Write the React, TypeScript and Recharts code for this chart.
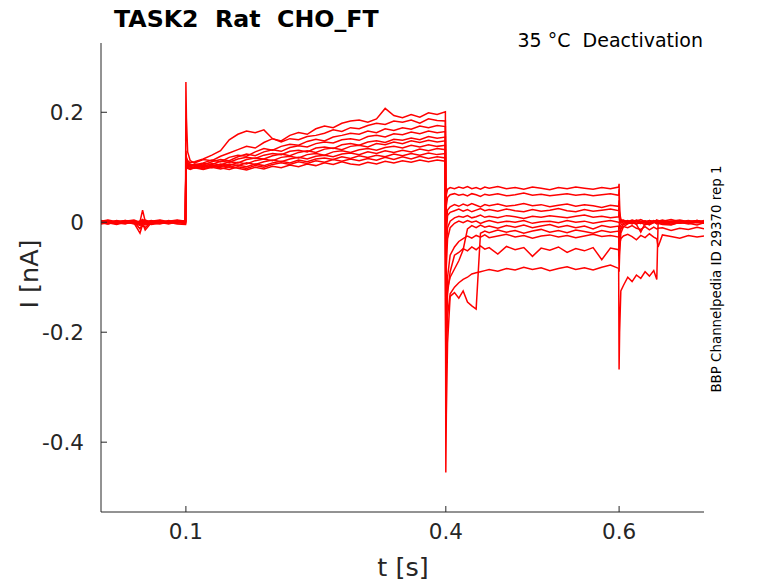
import { LineChart, Line, XAxis, YAxis } from "recharts";

// Current traces of a deactivation protocol: holding, prepulse (0.1–0.4 s),
// test steps (0.4–0.6 s), back to holding. nA.

const PRE_T = [0.002, 0.01, 0.02, 0.03, 0.04, 0.047, 0.05, 0.053, 0.06, 0.07, 0.08, 0.09, 0.0995];
const STEP_T = [
  0.1, 0.1006, 0.102, 0.105,
  0.11, 0.12, 0.13, 0.14, 0.15, 0.16, 0.17, 0.18, 0.19, 0.2,
  0.21, 0.22, 0.23, 0.24, 0.25, 0.26, 0.27, 0.28, 0.29, 0.3,
  0.31, 0.32, 0.33, 0.34, 0.35, 0.36, 0.37, 0.38, 0.39, 0.3995,
];
const HOLD_T = [
  0.4, 0.4006, 0.402, 0.405, 0.41, 0.415, 0.42, 0.425, 0.43, 0.435, 0.44, 0.445,
  0.45, 0.46, 0.47, 0.48, 0.49, 0.5, 0.51, 0.52, 0.53, 0.54, 0.55, 0.56, 0.57, 0.58, 0.59, 0.5995,
];
const POST_T = [
  0.6, 0.6006, 0.602, 0.605, 0.61, 0.615, 0.62, 0.625, 0.63, 0.635, 0.64, 0.6435, 0.645,
  0.65, 0.66, 0.67, 0.68, 0.69, 0.698,
];

const PRE_I = [
  [0.002, -0.001, 0.003, 0.0, -0.002, 0.001, 0.022, 0.002, -0.001, 0.003, 0.0, 0.002, -0.001],
  [-0.002, 0.001, -0.003, 0.002, -0.001, -0.02, -0.004, -0.01, 0.001, -0.002, 0.002, -0.001, 0.001],
  [0.001, 0.003, -0.001, 0.002, 0.004, 0.0, 0.003, -0.002, 0.002, 0.004, 0.001, 0.003, 0.0],
  [-0.001, -0.003, 0.001, -0.002, 0.0, -0.004, -0.001, -0.005, -0.002, 0.0, -0.003, 0.001, -0.002],
  [0.0, 0.002, -0.002, 0.001, -0.003, 0.002, 0.0, 0.001, -0.003, 0.001, -0.001, 0.002, 0.001],
  [0.003, 0.0, 0.002, -0.001, 0.001, -0.002, 0.004, 0.0, 0.002, -0.001, 0.003, 0.0, 0.002],
  [-0.003, -0.001, -0.004, 0.0, -0.002, -0.006, -0.003, -0.001, -0.004, -0.002, 0.0, -0.003, -0.004],
  [0.001, -0.002, 0.0, 0.003, 0.001, -0.001, 0.002, 0.004, 0.0, 0.002, -0.002, 0.001, 0.003],
  [-0.002, 0.0, -0.001, -0.003, 0.002, -0.003, -0.002, 0.0, -0.001, -0.003, 0.001, -0.002, 0.0],
  [0.002, 0.004, 0.001, 0.003, -0.001, 0.002, 0.005, 0.001, 0.003, 0.0, 0.002, 0.004, 0.002],
  [0.0, -0.003, 0.002, -0.001, 0.001, -0.012, -0.002, -0.014, -0.001, 0.001, -0.002, 0.0, -0.003],
];

const STEP_I = [
  [0.255, 0.19, 0.128, 0.112, 0.108, 0.114, 0.112, 0.12, 0.126, 0.132, 0.138, 0.135, 0.145, 0.152,
    0.148, 0.158, 0.163, 0.16, 0.17, 0.175, 0.172, 0.18, 0.184, 0.186, 0.182, 0.188, 0.207, 0.194,
    0.19, 0.196, 0.191, 0.199, 0.196, 0.201],
  [0.13, 0.118, 0.112, 0.108, 0.11, 0.115, 0.122, 0.13, 0.15, 0.16, 0.166, 0.163, 0.168, 0.152,
    0.146, 0.152, 0.15, 0.156, 0.158, 0.162, 0.168, 0.165, 0.172, 0.17, 0.176, 0.18, 0.178, 0.184,
    0.182, 0.186, 0.18, 0.188, 0.185, 0.184],
  [0.12, 0.112, 0.108, 0.104, 0.104, 0.108, 0.113, 0.11, 0.118, 0.122, 0.12, 0.128, 0.134, 0.131,
    0.138, 0.142, 0.14, 0.147, 0.151, 0.148, 0.155, 0.158, 0.162, 0.16, 0.166, 0.163, 0.17, 0.167,
    0.172, 0.169, 0.175, 0.172, 0.176, 0.174],
  [0.118, 0.11, 0.106, 0.103, 0.106, 0.104, 0.11, 0.114, 0.112, 0.119, 0.124, 0.121, 0.128, 0.132,
    0.129, 0.136, 0.139, 0.137, 0.143, 0.146, 0.144, 0.15, 0.152, 0.149, 0.156, 0.158, 0.155, 0.161,
    0.159, 0.164, 0.161, 0.166, 0.163, 0.165],
  [0.125, 0.115, 0.109, 0.105, 0.102, 0.107, 0.105, 0.111, 0.109, 0.115, 0.118, 0.116, 0.122, 0.125,
    0.123, 0.129, 0.131, 0.128, 0.135, 0.137, 0.134, 0.141, 0.143, 0.14, 0.146, 0.148, 0.145, 0.151,
    0.149, 0.153, 0.15, 0.156, 0.153, 0.155],
  [0.115, 0.108, 0.104, 0.102, 0.105, 0.101, 0.107, 0.104, 0.11, 0.108, 0.114, 0.117, 0.115, 0.121,
    0.124, 0.121, 0.127, 0.13, 0.127, 0.133, 0.135, 0.132, 0.138, 0.14, 0.137, 0.143, 0.141, 0.146,
    0.143, 0.148, 0.145, 0.149, 0.146, 0.148],
  [0.112, 0.106, 0.103, 0.1, 0.1, 0.104, 0.101, 0.106, 0.103, 0.109, 0.106, 0.112, 0.115, 0.112,
    0.118, 0.12, 0.117, 0.123, 0.125, 0.122, 0.128, 0.13, 0.127, 0.132, 0.134, 0.131, 0.136, 0.138,
    0.135, 0.14, 0.137, 0.141, 0.138, 0.14],
  [0.12, 0.11, 0.105, 0.101, 0.103, 0.099, 0.104, 0.101, 0.106, 0.103, 0.108, 0.105, 0.11, 0.113,
    0.11, 0.115, 0.118, 0.115, 0.12, 0.122, 0.119, 0.124, 0.126, 0.123, 0.128, 0.125, 0.13, 0.127,
    0.131, 0.128, 0.133, 0.13, 0.134, 0.132],
  [0.11, 0.104, 0.1, 0.098, 0.098, 0.102, 0.099, 0.103, 0.1, 0.104, 0.101, 0.106, 0.103, 0.108,
    0.111, 0.108, 0.113, 0.11, 0.115, 0.117, 0.114, 0.119, 0.116, 0.121, 0.118, 0.122, 0.119, 0.124,
    0.121, 0.125, 0.122, 0.126, 0.123, 0.125],
  [0.116, 0.106, 0.1, 0.097, 0.101, 0.097, 0.102, 0.099, 0.096, 0.101, 0.098, 0.103, 0.1, 0.105,
    0.108, 0.105, 0.11, 0.107, 0.112, 0.109, 0.114, 0.111, 0.115, 0.112, 0.116, 0.113, 0.118, 0.114,
    0.119, 0.115, 0.12, 0.116, 0.119, 0.117],
  [0.108, 0.102, 0.098, 0.096, 0.099, 0.096, 0.1, 0.097, 0.101, 0.098, 0.095, 0.1, 0.097, 0.102,
    0.099, 0.104, 0.101, 0.106, 0.103, 0.108, 0.105, 0.11, 0.106, 0.104, 0.109, 0.106, 0.111, 0.108,
    0.112, 0.109, 0.113, 0.11, 0.113, 0.111],
];

const HOLD_I = [
  [-0.05, 0.05, 0.06, 0.063, 0.061, 0.064, 0.062, 0.065, 0.061, 0.063, 0.06, 0.064, 0.062, 0.065,
    0.061, 0.063, 0.06, 0.064, 0.062, 0.059, 0.063, 0.061, 0.064, 0.062, 0.06, 0.063, 0.061, 0.064],
  [-0.08, 0.03, 0.045, 0.05, 0.052, 0.049, 0.051, 0.048, 0.052, 0.05, 0.047, 0.051, 0.049, 0.052,
    0.048, 0.05, 0.053, 0.049, 0.051, 0.048, 0.05, 0.052, 0.049, 0.051, 0.048, 0.05, 0.052, 0.049],
  [-0.12, 0.0, 0.022, 0.028, 0.032, 0.029, 0.033, 0.03, 0.034, 0.031, 0.028, 0.032, 0.03, 0.033,
    0.029, 0.031, 0.034, 0.03, 0.032, 0.028, 0.031, 0.033, 0.029, 0.032, 0.03, 0.027, 0.031, 0.029],
  [-0.15, -0.02, 0.012, 0.018, 0.021, 0.024, 0.02, 0.023, 0.019, 0.022, 0.025, 0.021, 0.023, 0.02,
    0.024, 0.021, 0.019, 0.023, 0.02, 0.022, 0.025, 0.021, 0.019, 0.023, 0.02, 0.022, 0.024, 0.021],
  [-0.2, -0.05, -0.01, 0.002, 0.008, 0.011, 0.009, 0.012, 0.008, 0.01, 0.013, 0.009, 0.011, 0.008,
    0.012, 0.01, 0.007, 0.011, 0.009, 0.012, 0.01, 0.008, 0.011, 0.013, 0.009, 0.011, 0.008, 0.01],
  [-0.25, -0.08, -0.03, -0.01, -0.002, 0.002, -0.001, 0.003, 0.0, 0.002, -0.002, 0.001, 0.003, -0.001,
    0.002, 0.0, 0.003, -0.002, 0.001, 0.002, -0.001, 0.003, 0.0, 0.002, -0.002, 0.001, 0.003, 0.0],
  [-0.3, -0.18, -0.12, -0.1, -0.085, -0.07, -0.05, -0.012, -0.006, -0.01, -0.005, -0.009, -0.007, -0.011,
    -0.006, -0.009, -0.005, -0.01, -0.007, -0.004, -0.009, -0.006, -0.01, -0.007, -0.012, -0.006, -0.009, -0.007],
  [-0.455, -0.35, -0.22, -0.135, -0.128, -0.138, -0.125, -0.145, -0.152, -0.158, -0.02, -0.016, -0.019, -0.014,
    -0.018, -0.015, -0.02, -0.016, -0.013, -0.018, -0.015, -0.019, -0.014, -0.017, -0.02, -0.015, -0.018, -0.016],
  [-0.28, -0.16, -0.1, -0.06, -0.045, -0.035, -0.03, -0.025, -0.029, -0.024, -0.027, -0.023, -0.028, -0.025,
    -0.022, -0.027, -0.024, -0.029, -0.025, -0.023, -0.027, -0.024, -0.028, -0.025, -0.022, -0.026, -0.024, -0.027],
  [-0.3, -0.2, -0.13, -0.09, -0.06, -0.055, -0.048, -0.052, -0.045, -0.05, -0.043, -0.049, -0.046, -0.058,
    -0.044, -0.05, -0.046, -0.062, -0.047, -0.051, -0.045, -0.055, -0.048, -0.052, -0.046, -0.068, -0.047, -0.05],
  [-0.35, -0.25, -0.17, -0.13, -0.118, -0.11, -0.104, -0.1, -0.094, -0.092, -0.09, -0.088, -0.086, -0.089,
    -0.084, -0.087, -0.082, -0.086, -0.083, -0.088, -0.084, -0.081, -0.086, -0.083, -0.087, -0.082, -0.078, -0.084],
];

const POST_I = [
  [0.07, 0.02, 0.005, 0.003, 0.001, 0.004, 0.002, 0.005, 0.001, 0.003, 0.0, 0.004, 0.003, 0.002, 0.005, 0.001, 0.003, 0.0, 0.002],
  [0.06, 0.015, 0.004, 0.001, 0.003, 0.0, 0.004, 0.002, -0.001, 0.003, 0.001, 0.004, 0.002, 0.0, 0.002, 0.004, 0.001, 0.003, 0.001],
  [0.04, 0.01, 0.002, 0.004, 0.0, 0.003, 0.001, -0.002, 0.002, 0.0, 0.003, 0.001, 0.002, 0.004, 0.0, 0.002, -0.001, 0.003, 0.0],
  [0.03, 0.005, 0.0, 0.002, -0.002, 0.001, 0.003, 0.0, 0.002, -0.003, 0.001, 0.003, 0.001, 0.0, 0.002, -0.001, 0.002, 0.0, 0.003],
  [0.02, 0.0, -0.002, 0.001, -0.001, 0.002, -0.003, 0.0, 0.002, -0.001, 0.001, -0.002, 0.0, 0.002, 0.0, -0.002, 0.001, 0.003, -0.001],
  [0.0, -0.01, -0.005, -0.002, 0.0, -0.003, 0.001, -0.002, 0.0, -0.004, -0.001, 0.001, -0.001, -0.003, 0.0, -0.002, 0.001, -0.001, 0.0],
  [-0.03, -0.02, -0.012, -0.008, -0.01, -0.006, -0.011, -0.013, -0.008, -0.014, -0.009, -0.012, -0.011, -0.01, -0.015, -0.011, -0.013, -0.009, -0.012],
  [-0.05, -0.03, -0.01, -0.004, -0.002, 0.001, -0.003, 0.0, -0.005, -0.001, 0.002, -0.002, -0.001, 0.0, -0.003, 0.001, -0.002, 0.0, -0.002],
  [-0.06, -0.04, -0.03, -0.025, -0.022, -0.026, -0.032, -0.024, -0.028, -0.021, -0.027, -0.03, -0.045, -0.023, -0.026, -0.029, -0.024, -0.027, -0.025],
  [-0.09, -0.06, -0.02, -0.008, -0.003, 0.0, -0.004, -0.018, -0.002, -0.005, 0.001, -0.003, -0.002, -0.001, -0.004, 0.0, -0.002, -0.005, -0.001],
  [-0.268, -0.2, -0.125, -0.115, -0.1, -0.108, -0.096, -0.102, -0.09, -0.098, -0.088, -0.104, -0.002, -0.004, -0.005, 0.0, -0.003, 0.001, -0.002],
];

const X_TICKS = [0.1, 0.4, 0.6];
const Y_TICKS = [-0.4, -0.2, 0, 0.2];

const TIME = [...PRE_T, ...STEP_T, ...HOLD_T, ...POST_T];

const traces = PRE_I.map((pre, k) => {
  const vals = [...pre, ...STEP_I[k], ...HOLD_I[k], ...POST_I[k]];
  return TIME.map((t, j) => ({ t, i: vals[j] }));
});

const FONT = "DejaVu Sans, Verdana, sans-serif";
const AXIS = "#262626";
const tickStyle = { fill: AXIS, fontSize: 21.5, fontFamily: FONT };

export default function App() {
  return (
    <div style={{ position: "absolute", left: 0, top: 0, width: 778, height: 583, background: "#fff" }}>
      <LineChart width={778} height={583} margin={{ top: 43, right: 74, bottom: 0, left: 0 }}>
        <XAxis
          type="number"
          dataKey="t"
          domain={[0.002, 0.698]}
          ticks={X_TICKS}
          allowDataOverflow
          height={71}
          tickSize={-6}
          tickMargin={18}
          stroke={AXIS}
          tick={tickStyle}
          tickFormatter={(v) => String(v)}
        />
        <YAxis
          type="number"
          domain={[-0.527, 0.326]}
          ticks={Y_TICKS}
          allowDataOverflow
          width={101}
          tickSize={-6}
          tickMargin={23}
          stroke={AXIS}
          tick={tickStyle}
          tickFormatter={(v) => String(v)}
        />
        {traces.map((data, k) => (
          <Line
            key={k}
            data={data}
            dataKey="i"
            type="linear"
            stroke="#ff0000"
            strokeWidth={1.5}
            dot={false}
            activeDot={false}
            isAnimationActive={false}
          />
        ))}
      </LineChart>
      <svg
        width={778}
        height={583}
        style={{ position: "absolute", left: 0, top: 0, pointerEvents: "none", fontFamily: FONT }}
      >
        <text x={114} y={27} fontSize={23.7} fontWeight="bold" fill="#000" style={{ whiteSpace: "pre" }}>
          TASK2  Rat  CHO_FT
        </text>
        <text x={703} y={47} fontSize={19} textAnchor="end" fill="#000" style={{ whiteSpace: "pre" }}>
          35 °C  Deactivation
        </text>
        <text x={403} y={576} fontSize={25.5} textAnchor="middle" fill={AXIS}>
          t [s]
        </text>
        <text x={38} y={274} fontSize={25.5} textAnchor="middle" fill={AXIS} transform="rotate(-90 38 274)">
          I [nA]
        </text>
        <text x={721} y={279} fontSize={13.4} textAnchor="middle" fill="#000" transform="rotate(-90 721 279)">
          BBP Channelpedia ID 29370 rep 1
        </text>
      </svg>
    </div>
  );
}
